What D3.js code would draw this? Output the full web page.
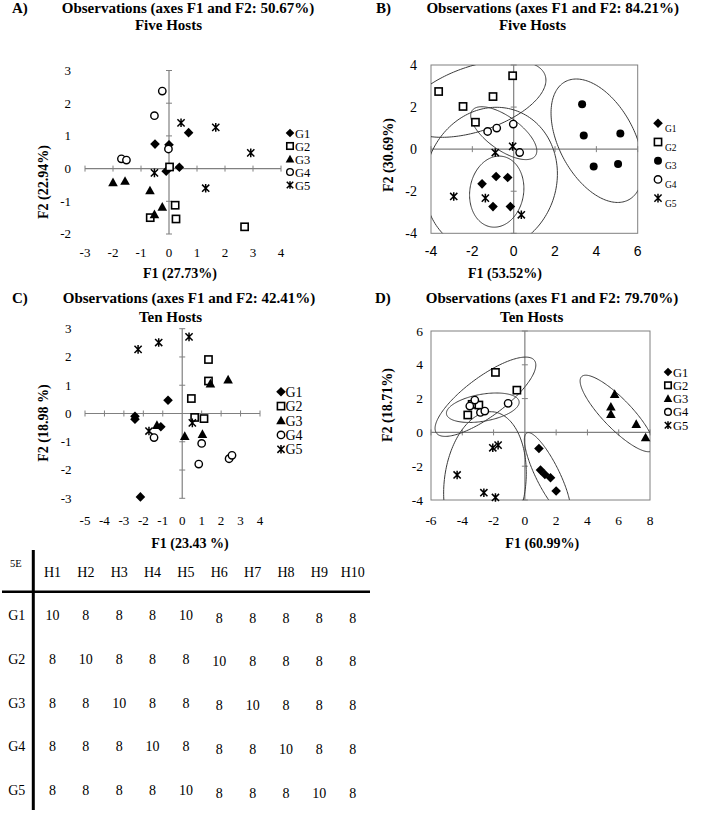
<!DOCTYPE html>
<html><head><meta charset="utf-8">
<script src="https://cdn.jsdelivr.net/npm/d3@7"></script>
<style>body{margin:0;background:#fff}svg{display:block}</style>
</head><body>
<script>
// ---------------- DATA ----------------
const groups = ["G1", "G2", "G3", "G4", "G5"];

// Panel A: Five Hosts, F1 (27.73%) vs F2 (22.94%)
const pointsA = [
  [[-0.5, 0.75], [0, 0.73], [0.7, 1.1], [0.37, 0.04], [-0.1, -0.08]],
  [[0.02, 0.05], [0.22, -1.12], [0.25, -1.54], [-0.67, -1.5], [2.7, -1.78]],
  [[-2.0, -0.42], [-1.57, -0.38], [-0.68, -0.67], [-0.24, -1.17], [-0.52, -1.4]],
  [[-0.24, 2.37], [-0.52, 1.62], [-0.02, 0.6], [-1.7, 0.3], [-1.52, 0.26]],
  [[0.43, 1.4], [1.67, 1.26], [2.92, 0.48], [1.31, -0.6], [-0.52, -0.13]]
];
const ticksAx = [-3, -2, -1, 0, 1, 2, 3, 4];
const ticksAy = [-2, -1, 0, 1, 2, 3];

// Panel B: Five Hosts, F1 (53.52%) vs F2 (30.69%)
const pointsB = [
  [[-1.53, -1.65], [-0.85, -1.3], [-0.29, -1.35], [-1.0, -2.73], [-0.16, -2.73]],
  [[-3.63, 2.74], [-2.45, 2.03], [-1.0, 2.5], [-0.05, 3.49], [-1.85, 1.28]],
  [[3.31, 2.14], [3.39, 0.65], [5.16, 0.74], [3.87, -0.82], [5.05, -0.71]],
  [[-1.26, 0.84], [-0.82, 1.0], [-0.02, 1.19], [0.29, -0.16]],
  [[-2.9, -2.25], [-1.37, -2.33], [-0.89, -0.16], [-0.05, 0.13], [0.37, -3.12]]
];
// ellipses: [centre x, centre y, semi-axis a, semi-axis b, angle (deg)]
const ellipsesB = [
  [-0.82, -2.02, 1.7, 1.3, 80],
  [-1.85, 2.4, 3.55, 1.55, 18],
  [4.03, 0.4, 3.2, 1.82, -61],
  [-0.48, 0.76, 1.87, 0.8, -35],
  [-1.1, -1.45, 3.5, 3.15, 65]
];
const ticksBx = [-4, -2, 0, 2, 4, 6];
const ticksBy = [-4, -2, 0, 2, 4];

// Panel C: Ten Hosts, F1 (23.43 %) vs F2 (18.98 %)
const pointsC = [
  [[-0.73, 0.47], [-2.43, -0.1], [-2.43, -0.2], [-1.1, -0.47], [-2.15, -2.95]],
  [[1.35, 1.91], [1.35, 1.15], [0.47, 0.53], [0.64, -0.14], [1.12, -0.18]],
  [[2.36, 1.2], [1.45, 1.06], [-1.3, -0.41], [0.13, -0.8], [1.04, -0.73]],
  [[-1.45, -0.85], [1.0, -1.06], [0.85, -1.79], [2.41, -1.6], [2.56, -1.48]],
  [[-2.27, 2.27], [-1.21, 2.51], [0.35, 2.71], [-1.71, -0.62], [0.52, -0.33]]
];
const ticksCx = [-5, -4, -3, -2, -1, 0, 1, 2, 3, 4];
const ticksCy = [-3, -2, -1, 0, 1, 2, 3];

// Panel D: Ten Hosts, F1 (60.99%) vs F2 (18.71%)
const pointsD = [
  [[0.9, -0.95], [1.0, -2.23], [1.28, -2.49], [1.64, -2.68], [2.0, -3.47]],
  [[-1.88, 3.55], [-0.51, 2.5], [-3.65, 1.03], [-3.37, 1.66], [-2.94, 1.62]],
  [[5.74, 2.27], [5.5, 1.52], [5.5, 1.08], [7.12, 0.49], [7.72, -0.3]],
  [[-3.2, 1.91], [-3.52, 1.56], [-2.84, 1.18], [-2.56, 1.26], [-1.07, 1.72]],
  [[-2.05, -0.91], [-1.71, -0.75], [-4.33, -2.52], [-2.62, -3.57], [-1.88, -3.85]]
];
const ellipsesD = [
  [1.45, -2.5, 2.8, 0.74, -61.6],
  [-2.52, 2.11, 3.8, 1.2, 34],
  [5.9, 1.12, 3.15, 0.9, -43.5],
  [-2.69, 1.46, 2.35, 0.8, 9],
  [-2.55, -3.0, 4.25, 2.6, 82]
];
const ticksDx = [-6, -4, -2, 0, 2, 4, 6, 8];
const ticksDy = [-4, -2, 0, 2, 4, 6];

// Table
const tableCorner = "5E";
const tableCols = ["H1", "H2", "H3", "H4", "H5", "H6", "H7", "H8", "H9", "H10"];
const tableRows = ["G1", "G2", "G3", "G4", "G5"];
const tableValues = [
  [10, 8, 8, 8, 10, 8, 8, 8, 8, 8],
  [8, 10, 8, 8, 8, 10, 8, 8, 8, 8],
  [8, 8, 10, 8, 8, 8, 10, 8, 8, 8],
  [8, 8, 8, 10, 8, 8, 8, 10, 8, 8],
  [8, 8, 8, 8, 10, 8, 8, 8, 10, 8]
];

// ---------------- DRAWING ----------------
const W = 702, H = 813;
const SERIF = "'Liberation Serif','Times New Roman',serif";
const SANS = "'Liberation Sans',Arial,sans-serif";
const AXIS = "#808080";
const svg = d3.select("body").append("svg").attr("width", W).attr("height", H);

function marker(g, type, cx, cy, k = 1) {
  if (type === "diamond") {
    const r = 4.8 * k;
    g.append("path").attr("d", `M${cx},${cy - r}L${cx + r},${cy}L${cx},${cy + r}L${cx - r},${cy}Z`).attr("fill", "#000");
  } else if (type === "square") {
    const r = 3.6 * k;
    g.append("rect").attr("x", cx - r).attr("y", cy - r).attr("width", 2 * r).attr("height", 2 * r)
      .attr("fill", "#fff").attr("stroke", "#000").attr("stroke-width", 1.6);
  } else if (type === "triangle") {
    const r = 4.8 * k;
    g.append("path").attr("d", `M${cx},${cy - r}L${cx + r},${cy + r * 0.8}L${cx - r},${cy + r * 0.8}Z`).attr("fill", "#000");
  } else if (type === "circle") {
    g.append("circle").attr("cx", cx).attr("cy", cy).attr("r", 3.7 * k)
      .attr("fill", "#fff").attr("stroke", "#000").attr("stroke-width", 1.4);
  } else if (type === "dot") {
    g.append("circle").attr("cx", cx).attr("cy", cy).attr("r", 4 * k).attr("fill", "#000");
  } else if (type === "star") {
    const r = 3.6 * k, v = 4.3 * k;
    g.append("path").attr("d", `M${cx - r},${cy - r}L${cx + r},${cy + r}M${cx + r},${cy - r}L${cx - r},${cy + r}M${cx},${cy - v}L${cx},${cy + v}`)
      .attr("stroke", "#000").attr("stroke-width", 1.5).attr("fill", "none");
  }
}

let clipId = 0;
function panel(cfg) {
  const g = svg.append("g");
  const x = d3.scaleLinear().domain(cfg.xDomain).range(cfg.xRange);
  const y = d3.scaleLinear().domain(cfg.yDomain).range(cfg.yRange);
  const [x0, x1] = cfg.xDomain, [y0, y1] = cfg.yDomain;

  if (cfg.box) {
    g.append("rect").attr("x", x(x0)).attr("y", y(y1)).attr("width", x(x1) - x(x0)).attr("height", y(y0) - y(y1))
      .attr("fill", "none").attr("stroke", AXIS).attr("stroke-width", 1);
  }
  // zero axis lines
  g.append("line").attr("x1", x(x0)).attr("x2", x(x1)).attr("y1", y(0)).attr("y2", y(0)).attr("stroke", AXIS).attr("stroke-width", 1.2);
  g.append("line").attr("x1", x(0)).attr("x2", x(0)).attr("y1", y(y0)).attr("y2", y(y1)).attr("stroke", AXIS).attr("stroke-width", 1.2);
  // tick marks crossing the axes
  cfg.xTicks.filter(t => t !== 0).forEach(t => {
    g.append("line").attr("x1", x(t)).attr("x2", x(t)).attr("y1", y(0) - 3).attr("y2", y(0) + 3).attr("stroke", AXIS).attr("stroke-width", 1);
  });
  cfg.yTicks.filter(t => t !== 0).forEach(t => {
    g.append("line").attr("x1", x(0) - 3).attr("x2", x(0) + 3).attr("y1", y(t)).attr("y2", y(t)).attr("stroke", AXIS).attr("stroke-width", 1);
  });
  // tick labels
  cfg.xTicks.forEach(t => {
    g.append("text").attr("x", x(t)).attr("y", cfg.xLabelY).attr("text-anchor", "middle")
      .attr("font-family", cfg.xTickFont || SERIF).attr("font-size", cfg.tickSize).text(t);
  });
  cfg.yTicks.forEach(t => {
    g.append("text").attr("x", cfg.yLabelX).attr("y", y(t) + cfg.tickSize * 0.34).attr("text-anchor", "end")
      .attr("font-family", SERIF).attr("font-size", cfg.tickSize).text(t);
  });
  // ellipses
  if (cfg.ellipses) {
    const id = "clip" + (clipId++);
    svg.append("defs").append("clipPath").attr("id", id).append("rect")
      .attr("x", x(x0)).attr("y", y(y1)).attr("width", x(x1) - x(x0)).attr("height", y(y0) - y(y1));
    const eg = g.append("g").attr("clip-path", `url(#${id})`);
    const line = d3.line().x(d => x(d[0])).y(d => y(d[1])).curve(d3.curveLinearClosed);
    cfg.ellipses.forEach(([cx, cy, a, b, ang]) => {
      const th = ang * Math.PI / 180;
      const pts = d3.range(0, 2 * Math.PI, Math.PI / 90).map(t => [
        cx + a * Math.cos(t) * Math.cos(th) - b * Math.sin(t) * Math.sin(th),
        cy + a * Math.cos(t) * Math.sin(th) + b * Math.sin(t) * Math.cos(th)
      ]);
      eg.append("path").attr("d", line(pts)).attr("fill", "none").attr("stroke", "#3a3a3a").attr("stroke-width", 1);
    });
  }
  // points
  cfg.points.forEach((pts, gi) => {
    pts.forEach(p => marker(g, cfg.markers[gi], x(p[0]), y(p[1])));
  });
  // legend
  groups.forEach((name, i) => {
    const my = cfg.legend.y0 + i * cfg.legend.dy;
    marker(g, cfg.markers[i], cfg.legend.mx, my, cfg.legend.k);
    g.append("text").attr("x", cfg.legend.tx).attr("y", my + cfg.legend.off)
      .attr("font-family", SERIF).attr("font-size", cfg.legend.size).text(name);
  });
  // titles
  g.append("text").attr("x", cfg.letterX).attr("y", cfg.titleY).attr("font-family", SERIF).attr("font-weight", "bold")
    .attr("font-size", 15).text(cfg.letter);
  g.append("text").attr("x", cfg.titleX).attr("y", cfg.titleY).attr("text-anchor", "middle").attr("font-family", SERIF)
    .attr("font-weight", "bold").attr("font-size", 15).text(cfg.title);
  g.append("text").attr("x", cfg.subX).attr("y", cfg.subY).attr("text-anchor", "middle").attr("font-family", SERIF)
    .attr("font-weight", "bold").attr("font-size", 15).text(cfg.sub);
  // axis titles
  g.append("text").attr("x", cfg.xTitle[0]).attr("y", cfg.xTitle[1]).attr("text-anchor", "middle").attr("font-family", SERIF)
    .attr("font-weight", "bold").attr("font-size", 14).text(cfg.xTitleText);
  g.append("text").attr("transform", `translate(${cfg.yTitle[0]},${cfg.yTitle[1]}) rotate(-90)`).attr("text-anchor", "middle")
    .attr("font-family", SERIF).attr("font-weight", "bold").attr("font-size", 14).text(cfg.yTitleText);
}

const mk5 = ["diamond", "square", "triangle", "circle", "star"];

panel({
  xDomain: [-3, 4], xRange: [85, 281], yDomain: [-2, 3], yRange: [234, 70.5],
  xTicks: ticksAx, yTicks: ticksAy, tickSize: 13, xLabelY: 257, yLabelX: 71,
  points: pointsA, markers: mk5,
  legend: { mx: 290, tx: 295, y0: 133, dy: 13, off: 4.5, size: 12.5, k: 0.9 },
  letter: "A)", letterX: 12, title: "Observations (axes F1 and F2: 50.67%)", titleX: 188, titleY: 12.5,
  sub: "Five Hosts", subX: 168.5, subY: 30,
  xTitle: [180, 278], xTitleText: "F1 (27.73%)", yTitle: [47.5, 182], yTitleText: "F2 (22.94%)"
});

panel({
  xDomain: [-4, 6], xRange: [431, 637.7], yDomain: [-4, 4], yRange: [233.3, 65], box: true,
  xTicks: ticksBx, yTicks: ticksBy, tickSize: 14, xTickFont: SANS, xLabelY: 256, yLabelX: 417,
  points: pointsB, markers: ["diamond", "square", "dot", "circle", "star"], ellipses: ellipsesB,
  legend: { mx: 658, tx: 665, y0: 123.3, dy: 18.7, off: 8.5, size: 9.5, k: 1 },
  letter: "B)", letterX: 376, title: "Observations (axes F1 and F2: 84.21%)", titleX: 552.7, titleY: 12.5,
  sub: "Five Hosts", subX: 532.5, subY: 30,
  xTitle: [505, 278], xTitleText: "F1 (53.52%)", yTitle: [393, 155], yTitleText: "F2 (30.69%)"
});

panel({
  xDomain: [-5, 4], xRange: [85, 260], yDomain: [-3, 3], yRange: [498.3, 328.7],
  xTicks: ticksCx, yTicks: ticksCy, tickSize: 13, xLabelY: 524.5, yLabelX: 71.5,
  points: pointsC, markers: mk5,
  legend: { mx: 281, tx: 285.5, y0: 391.7, dy: 14.4, off: 5, size: 14, k: 1 },
  letter: "C)", letterX: 12, title: "Observations (axes F1 and F2: 42.41%)", titleX: 189, titleY: 303,
  sub: "Ten Hosts", subX: 170.5, subY: 321.5,
  xTitle: [190, 548], xTitleText: "F1 (23.43 %)", yTitle: [47.5, 423], yTitleText: "F2 (18.98 %)"
});

panel({
  xDomain: [-6, 8], xRange: [431, 650], yDomain: [-4, 6], yRange: [500, 331], box: true,
  xTicks: ticksDx, yTicks: ticksDy, tickSize: 13.5, xLabelY: 524.5, yLabelX: 423,
  points: pointsD, markers: mk5, ellipses: ellipsesD,
  legend: { mx: 668, tx: 673, y0: 372, dy: 13.3, off: 4.5, size: 12.5, k: 0.9 },
  letter: "D)", letterX: 375, title: "Observations (axes F1 and F2: 79.70%)", titleX: 552, titleY: 303,
  sub: "Ten Hosts", subX: 531.7, subY: 321.5,
  xTitle: [542.3, 548], xTitleText: "F1 (60.99%)", yTitle: [392, 405], yTitleText: "F2 (18.71%)"
});

// ---------------- TABLE ----------------
const tg = svg.append("g");
const colX = d3.scalePoint().domain(tableCols).range([52.5, 352.7]);
const rowY = d3.scalePoint().domain(tableRows).range([615, 790]);
tg.append("line").attr("x1", 33.3).attr("x2", 33.3).attr("y1", 550).attr("y2", 810).attr("stroke", "#000").attr("stroke-width", 3);
tg.append("line").attr("x1", 2).attr("x2", 370).attr("y1", 591.7).attr("y2", 591.7).attr("stroke", "#000").attr("stroke-width", 2.5);
tg.append("text").attr("x", 10).attr("y", 567).attr("font-family", SERIF).attr("font-size", 10.5).text(tableCorner);
tableCols.forEach(c => {
  tg.append("text").attr("x", colX(c)).attr("y", 576.5).attr("text-anchor", "middle")
    .attr("font-family", SERIF).attr("font-size", 14).text(c);
});
tableRows.forEach((r, i) => {
  tg.append("text").attr("x", 16.7).attr("y", rowY(r) + 5).attr("text-anchor", "middle")
    .attr("font-family", SERIF).attr("font-size", 14).text(r);
  tableValues[i].forEach((v, j) => {
    tg.append("text").attr("x", colX(tableCols[j])).attr("y", rowY(r) + 5 + (j >= 5 ? 2.7 : 0)).attr("text-anchor", "middle")
      .attr("font-family", SERIF).attr("font-size", 14).text(v);
  });
});
</script>
</body></html>
